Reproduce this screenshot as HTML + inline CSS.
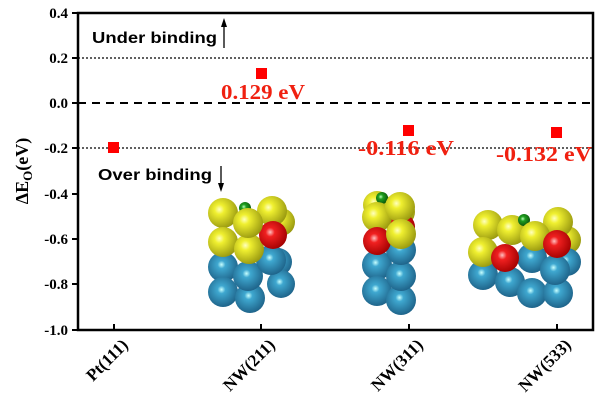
<!DOCTYPE html>
<html><head><meta charset="utf-8"><style>
html,body{margin:0;padding:0;background:#fff;}
svg{display:block;font-family:"Liberation Serif",serif;}
</style></head><body>
<svg width="600" height="404" viewBox="0 0 600 404" xmlns="http://www.w3.org/2000/svg">
<defs>
<radialGradient id="y" cx="0.38" cy="0.38" r="0.65"><stop offset="0" stop-color="#ffffc0"/><stop offset="0.25" stop-color="#f0f030"/><stop offset="1" stop-color="#9a9a10"/></radialGradient>
<radialGradient id="b" cx="0.45" cy="0.42" r="0.65"><stop offset="0" stop-color="#c8ffff"/><stop offset="0.2" stop-color="#3fa8d0"/><stop offset="1" stop-color="#1a5a80"/></radialGradient>
<radialGradient id="r" cx="0.4" cy="0.4" r="0.65"><stop offset="0" stop-color="#ffc0c0"/><stop offset="0.25" stop-color="#f02020"/><stop offset="1" stop-color="#a00000"/></radialGradient>
<radialGradient id="g" cx="0.4" cy="0.4" r="0.65"><stop offset="0" stop-color="#c0ffc0"/><stop offset="0.3" stop-color="#20a020"/><stop offset="1" stop-color="#0a500a"/></radialGradient>
</defs>
<line x1="78" y1="58" x2="593" y2="58" stroke="#000" stroke-width="1.3" stroke-dasharray="2,2"/>
<line x1="78" y1="148" x2="593" y2="148" stroke="#000" stroke-width="1.3" stroke-dasharray="2,2"/>
<line x1="78" y1="103" x2="593" y2="103" stroke="#000" stroke-width="2" stroke-dasharray="8,6"/>
<g>
<circle cx="281" cy="222" r="14" fill="url(#y)"/><circle cx="278" cy="262" r="14" fill="url(#b)"/><circle cx="281" cy="284" r="14" fill="url(#b)"/>
<circle cx="223" cy="267" r="15" fill="url(#b)"/><circle cx="223" cy="292" r="15" fill="url(#b)"/><circle cx="250" cy="298" r="15" fill="url(#b)"/>
<circle cx="248" cy="276" r="15" fill="url(#b)"/><circle cx="271" cy="260" r="15" fill="url(#b)"/>
<circle cx="223" cy="213" r="15" fill="url(#y)"/><circle cx="223" cy="242" r="15" fill="url(#y)"/><circle cx="249" cy="249" r="15" fill="url(#y)"/>
<circle cx="245" cy="208" r="6" fill="url(#g)"/>
<circle cx="272" cy="211" r="15" fill="url(#y)"/><circle cx="273" cy="235" r="14" fill="url(#r)"/><circle cx="248" cy="223" r="15" fill="url(#y)"/>
</g>
<g>
<circle cx="401" cy="212" r="14" fill="url(#y)"/><circle cx="401" cy="227" r="14" fill="url(#r)"/>
<circle cx="377" cy="265" r="15" fill="url(#b)"/><circle cx="377" cy="291" r="15" fill="url(#b)"/><circle cx="401" cy="300" r="15" fill="url(#b)"/>
<circle cx="401" cy="276" r="15" fill="url(#b)"/><circle cx="401" cy="250" r="15" fill="url(#b)"/>
<circle cx="377" cy="205" r="14" fill="url(#y)"/><circle cx="382" cy="198" r="6" fill="url(#g)"/>
<circle cx="377" cy="217" r="15" fill="url(#y)"/><circle cx="400" cy="207" r="15" fill="url(#y)"/>
<circle cx="377" cy="241" r="14" fill="url(#r)"/><circle cx="401" cy="234" r="15" fill="url(#y)"/>
</g>
<g>
<circle cx="567" cy="240" r="14" fill="url(#y)"/><circle cx="567" cy="262" r="14" fill="url(#b)"/>
<circle cx="483" cy="275" r="15" fill="url(#b)"/><circle cx="510" cy="282" r="15" fill="url(#b)"/><circle cx="532" cy="293" r="15" fill="url(#b)"/><circle cx="558" cy="293" r="15" fill="url(#b)"/>
<circle cx="532" cy="258" r="15" fill="url(#b)"/><circle cx="555" cy="270" r="15" fill="url(#b)"/>
<circle cx="488" cy="225" r="15" fill="url(#y)"/><circle cx="512" cy="230" r="15" fill="url(#y)"/><circle cx="524" cy="220" r="6" fill="url(#g)"/>
<circle cx="483" cy="252" r="15" fill="url(#y)"/><circle cx="505" cy="258" r="14" fill="url(#r)"/>
<circle cx="558" cy="222" r="15" fill="url(#y)"/><circle cx="535" cy="236" r="15" fill="url(#y)"/><circle cx="557" cy="244" r="14" fill="url(#r)"/>
</g>
<rect x="78" y="13" width="515" height="317" fill="none" stroke="#000" stroke-width="2.5"/>
<g stroke="#000" stroke-width="2">
<line x1="72" y1="13" x2="78" y2="13"/><line x1="72" y1="58" x2="78" y2="58"/><line x1="72" y1="103" x2="78" y2="103"/><line x1="72" y1="148" x2="78" y2="148"/><line x1="72" y1="194" x2="78" y2="194"/><line x1="72" y1="239" x2="78" y2="239"/><line x1="72" y1="284" x2="78" y2="284"/><line x1="72" y1="330" x2="78" y2="330"/>
<line x1="114" y1="324" x2="114" y2="330"/><line x1="261" y1="324" x2="261" y2="330"/><line x1="409" y1="324" x2="409" y2="330"/><line x1="557" y1="324" x2="557" y2="330"/>
</g>
<g font-size="15" font-weight="bold" text-anchor="end">
<text x="68" y="18">0.4</text><text x="68" y="63">0.2</text><text x="68" y="108">0.0</text><text x="68" y="153">-0.2</text><text x="68" y="199">-0.4</text><text x="68" y="244">-0.6</text><text x="68" y="289">-0.8</text><text x="68" y="335">-1.0</text>
</g>
<text transform="translate(28,171) rotate(-90)" font-size="18" font-weight="bold" text-anchor="middle">ΔE<tspan font-size="13" dy="4">O</tspan><tspan dy="-4">(eV)</tspan></text>
<g font-size="17" font-weight="bold" text-anchor="end">
<text transform="translate(129,346) rotate(-45)">Pt(111)</text>
<text transform="translate(276,346) rotate(-45)">NW(211)</text>
<text transform="translate(424,346) rotate(-45)">NW(311)</text>
<text transform="translate(572,346) rotate(-45)">NW(533)</text>
</g>
<g font-family="Liberation Sans,sans-serif" font-size="15.5" font-weight="bold">
<text x="92" y="43" textLength="125" lengthAdjust="spacingAndGlyphs">Under binding</text>
<text x="98" y="180" textLength="114" lengthAdjust="spacingAndGlyphs">Over binding</text>
</g>
<line x1="224" y1="48" x2="224" y2="24" stroke="#000" stroke-width="1.3"/><path d="M221,27 L224,18 L227,27Z"/>
<line x1="221" y1="166" x2="221" y2="186" stroke="#000" stroke-width="1.3"/><path d="M218,183 L221,192 L224,183Z"/>
<g fill="#f00">
<rect x="108" y="142" width="11" height="11"/><rect x="256" y="68" width="11" height="11"/><rect x="403" y="125" width="11" height="11"/><rect x="551" y="127" width="11" height="11"/>
</g>
<g fill="#f02010" font-size="21" font-weight="bold">
<text x="221" y="99" textLength="84" lengthAdjust="spacingAndGlyphs">0.129 eV</text>
<text x="358" y="155" textLength="96" lengthAdjust="spacingAndGlyphs">-0.116 eV</text>
<text x="496" y="161" textLength="96" lengthAdjust="spacingAndGlyphs">-0.132 eV</text>
</g>
</svg>
</body></html>
